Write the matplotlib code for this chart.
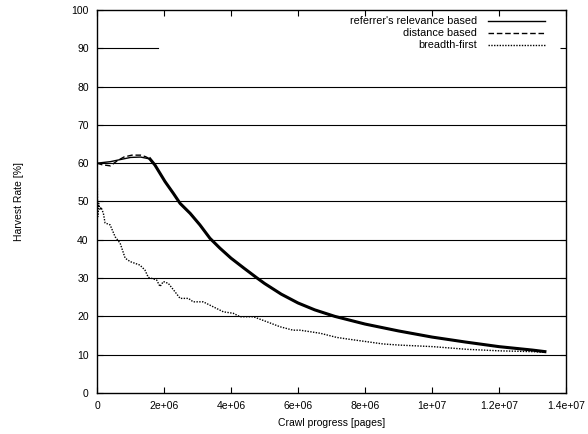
import matplotlib
matplotlib.use('Agg')
import matplotlib.pyplot as pl

pl.rcParams['font.family'] = ['Liberation Sans', 'DejaVu Sans']

# referrer's relevance based (solid)
rel_x = [0, 0.4e6, 1.0e6, 1.3e6, 1.58e6, 1.73e6, 2.03e6, 2.28e6, 2.48e6, 2.78e6, 3.07e6,
         3.37e6, 3.67e6, 4.0e6, 4.4e6, 4.78e6, 5.0e6, 5.5e6, 6.0e6, 6.5e6, 7.1e6, 8.0e6,
         9.0e6, 10.0e6, 11.0e6, 12.0e6, 13.0e6, 13.37e6]
rel_y = [60.0, 60.4, 61.5, 61.6, 61.1, 59.5, 55.2, 52.1, 49.5, 46.9, 43.9,
         40.4, 37.8, 35.2, 32.5, 30.0, 28.6, 25.8, 23.5, 21.7, 20.0, 18.0,
         16.2, 14.6, 13.3, 12.1, 11.2, 10.8]
peak = 4  # from here on the curve is drawn heavy

# distance based (dashed)
dist_x = [0, 0.15e6, 0.4e6, 0.6e6, 0.8e6, 1.04e6, 1.3e6, 1.45e6, 1.58e6, 1.73e6, 2.03e6,
          2.28e6, 2.48e6, 2.78e6, 3.07e6, 3.37e6, 3.67e6, 4.0e6, 4.4e6, 4.78e6, 5.0e6,
          5.5e6, 6.0e6, 6.5e6, 7.1e6, 8.0e6, 9.0e6, 10.0e6, 11.0e6, 12.0e6, 13.0e6, 13.37e6]
dist_y = [60.0, 59.6, 59.3, 60.6, 61.6, 62.1, 62.1, 61.7, 61.1, 59.5, 55.2,
          52.1, 49.5, 46.9, 43.9, 40.4, 37.8, 35.2, 32.5, 30.0, 28.6,
          25.8, 23.5, 21.7, 20.0, 18.0, 16.2, 14.6, 13.3, 12.1, 11.2, 10.8]

# breadth-first (dotted)
bf_x = [0, 0.02e6, 0.05e6, 0.09e6, 0.12e6, 0.19e6, 0.24e6, 0.39e6, 0.54e6, 0.69e6, 0.84e6,
        0.99e6, 1.28e6, 1.43e6, 1.53e6, 1.78e6, 1.88e6, 1.98e6, 2.13e6, 2.33e6, 2.48e6,
        2.73e6, 2.87e6, 3.17e6, 3.47e6, 3.77e6, 4.07e6, 4.27e6, 4.67e6, 5.07e6, 5.46e6,
        5.85e6, 6.06e6, 6.36e6, 6.66e6, 7.16e6, 7.55e6, 8.05e6, 8.54e6, 9.04e6, 10.03e6,
        11.04e6, 12.03e6, 13.0e6, 13.37e6]
bf_y = [60.0, 46.0, 49.5, 47.8, 48.5, 46.9, 44.4, 43.9, 40.8, 39.1, 35.2,
        34.3, 33.4, 32.1, 30.2, 29.5, 27.8, 29.1, 28.6, 26.4, 24.7,
        24.7, 23.8, 23.8, 22.5, 21.2, 20.8, 19.9, 19.9, 18.6, 17.3,
        16.4, 16.4, 16.0, 15.6, 14.5, 14.0, 13.4, 12.8, 12.5, 12.1,
        11.4, 11.0, 10.8, 10.6]

xticks = [0, 2e6, 4e6, 6e6, 8e6, 1e7, 1.2e7, 1.4e7]
xtick_labels = ['0', '2e+06', '4e+06', '6e+06', '8e+06', '1e+07', '1.2e+07', '1.4e+07']
yticks = list(range(0, 101, 10))

fig = pl.figure(figsize=(5.88, 4.34), dpi=100)
ax = fig.add_axes([0.165, 0.0945, 0.7976, 0.8825])

# grid lines (the one at 90 is cut short, as in the original)
for y in yticks[1:-2]:
    ax.axhline(y, color='black', lw=0.8, zorder=1)
ax.axhline(90, xmax=0.13, color='black', lw=0.8, zorder=1)

ax.plot(rel_x, rel_y, color='black', lw=1.0, ls='-', label="referrer's relevance based", zorder=3)
ax.plot(rel_x[peak:], rel_y[peak:], color='black', lw=2.2, ls='-', zorder=3)
ax.plot(dist_x, dist_y, color='black', lw=1.0, ls=(0, (4, 2)), label='distance based', zorder=3)
ax.plot(bf_x, bf_y, color='black', lw=1.0, ls=(0, (1, 1)), label='breadth-first', zorder=3)

ax.set_xlim(0, 1.4e7)
ax.set_ylim(0, 100)
ax.set_xticks(xticks)
ax.set_xticklabels(xtick_labels)
ax.set_yticks(yticks)
ax.tick_params(direction='in', top=True, right=True, labelsize=7.5, length=4, width=0.8, pad=6)
for s in ax.spines.values():
    s.set_linewidth(1.0)

ax.set_xlabel('Crawl progress [pages]', fontsize=7.5, labelpad=5)
ax.set_ylabel('Harvest Rate [%]', fontsize=7.5, labelpad=34)

leg = ax.legend(loc='upper right', frameon=False, markerfirst=False, fontsize=7.8,
                handlelength=5.3, handletextpad=1.0, labelspacing=0.18,
                borderaxespad=0.2, bbox_to_anchor=(0.97, 1.0))
for t in leg.get_texts():
    t.set_ha('right')

fig.savefig('out.png', dpi=100)
